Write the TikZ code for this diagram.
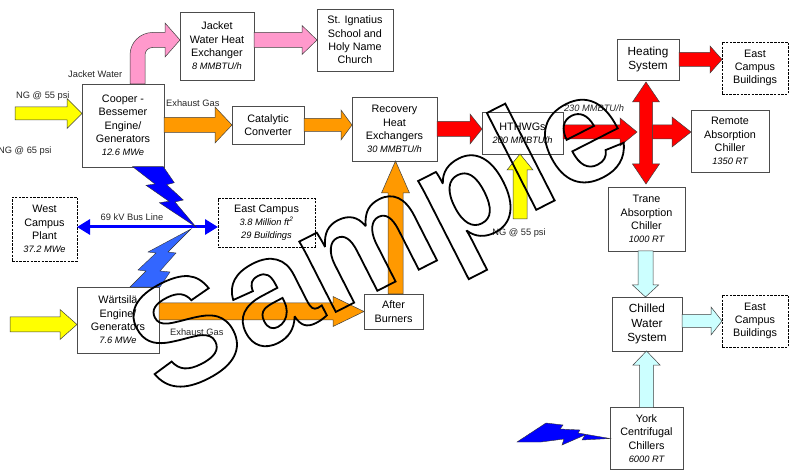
\documentclass[tikz,border=0pt]{standalone}
\usepackage{fontspec}
\setmainfont{Liberation Sans}
\usetikzlibrary{calc,arrows.meta}
\definecolor{pinkA}{HTML}{FF99CC}
\definecolor{orangeA}{HTML}{FF9900}
\definecolor{yellowA}{HTML}{FFFF00}
\definecolor{redA}{HTML}{FF0000}
\definecolor{cyanA}{HTML}{CCFFFF}
\definecolor{blueA}{HTML}{0000FF}
\definecolor{blueB}{HTML}{3366FF}
\newcommand\bxf{\fontsize{10.8}{13.3}\selectfont}
\newcommand\bxg{\fontsize{11.8}{14.6}\selectfont}
\newcommand\itf{\fontsize{9.3}{11}\selectfont\itshape}
\newcommand\lblf{\fontsize{9.3}{11}\selectfont}
\newcommand\wmf{\fontsize{150}{155}\selectfont\bfseries}
% block arrow: style, start, tip, shaft half width, head half width, head length
\newcommand\barrow[6]{%
  \coordinate (bah) at ($(#3)!#6!(#2)$);
  \draw[#1] ($(#2)!#4!90:(#3)$) -- ($(bah)!#4!-90:(#2)$) -- ($(bah)!#5!-90:(#2)$) -- (#3)
    -- ($(bah)!#5!90:(#2)$) -- ($(bah)!#4!90:(#2)$) -- ($(#2)!#4!-90:(#3)$) -- cycle;}
% double block arrow: style, tip1, tip2, shaft half, head half, head length
\newcommand\dbarrow[6]{%
  \coordinate (bah1) at ($(#2)!#6!(#3)$);
  \coordinate (bah2) at ($(#3)!#6!(#2)$);
  \draw[#1] (#2) -- ($(bah1)!#5!90:(#3)$) -- ($(bah1)!#4!90:(#3)$) -- ($(bah2)!#4!-90:(#2)$)
    -- ($(bah2)!#5!-90:(#2)$) -- (#3) -- ($(bah2)!#5!90:(#2)$) -- ($(bah2)!#4!90:(#2)$)
    -- ($(bah1)!#4!-90:(#3)$) -- ($(bah1)!#5!-90:(#3)$) -- cycle;}
\begin{document}
\begin{tikzpicture}[x=1pt,y=-1pt,
  box/.style={draw=black!70, line width=0.8pt, fill=white, align=center, font=\bxf,
    inner sep=1pt, outer sep=0pt, text=black},
  dbox/.style={box, draw=black, dash pattern=on 2.5pt off 1.2pt},
  lbl/.style={font=\lblf, inner sep=0pt, text=black!85},
  blk/.style={draw=black!75, line width=0.5pt, line join=miter},
  yel/.style={blk, fill=yellowA},
  pnk/.style={blk, fill=pinkA},
  org/.style={blk, fill=orangeA},
  red/.style={blk, fill=redA},
  cyn/.style={blk, fill=cyanA},
  bolt/.style={draw=black!80, line width=0.4pt, fill=blueA},
  boltb/.style={draw=black!80, line width=0.4pt, fill=blueB},
  busline/.style={draw=blueA, line width=3pt, {Triangle[length=13pt,width=15pt]}-{Triangle[length=13pt,width=15pt]}}
]
\useasboundingbox (0,0) rectangle (790,470);

% ---------- boxes ----------
\node[box, minimum width=74pt, minimum height=68pt] (jhx) at (217,46) {Jacket\\Water Heat\\Exchanger\\{\itf 8 MMBTU/h}};
\node[box, minimum width=76pt, minimum height=62pt] (stig) at (355,40) {St. Ignatius\\School and\\Holy Name\\Church};
\node[box, minimum width=82pt, minimum height=83pt] (cooper) at (123,125.5) {Cooper -\\Bessemer\\Engine/\\Generators\\{\itf 12.6 MWe}};
\node[box, minimum width=72pt, minimum height=38pt] (cat) at (268,125) {Catalytic\\Converter};
\node[box, minimum width=85pt, minimum height=64pt] (rhx) at (394.5,129) {Recovery\\Heat\\Exchangers\\{\itf 30 MMBTU/h}};
\node[box, minimum width=81pt, minimum height=42pt] (hthwg) at (522.5,133) {HTHWGs\\{\itf 200 MMBTU/h}};
\node[box, minimum width=62pt, minimum height=41pt, font=\bxg] (heat) at (648,59.5) {Heating\\System};
\node[dbox, minimum width=66pt, minimum height=52pt] (ecb1) at (755,68) {East\\Campus\\Buildings};
\node[box, minimum width=78pt, minimum height=62pt] (remote) at (730,141) {Remote\\Absorption\\Chiller\\{\itf 1350 RT}};
\node[box, minimum width=77pt, minimum height=64pt] (trane) at (646.5,219) {Trane\\Absorption\\Chiller\\{\itf 1000 RT}};
\node[box, minimum width=70pt, minimum height=54pt, font=\bxg] (chilled) at (647,324) {Chilled\\Water\\System};
\node[dbox, minimum width=66pt, minimum height=52pt] (ecb2) at (755,321) {East\\Campus\\Buildings};
\node[box, minimum width=73pt, minimum height=62pt] (york) at (646.5,438.5) {York\\Centrifugal\\Chillers\\{\itf 6000 RT}};
\node[dbox, minimum width=65pt, minimum height=64pt] (west) at (44.5,229) {West\\Campus\\Plant\\{\itf 37.2 MWe}};
\node[dbox, minimum width=97pt, minimum height=49pt] (east) at (266.5,222.5) {East Campus\\{\itf 3.8 Million ft\textsuperscript{2}}\\{\itf 29 Buildings}};
\node[box, minimum width=82pt, minimum height=66pt] (wart) at (118,320) {Wärtsilä\\Engine/\\Generators\\{\itf 7.6 MWe}};
\node[box, minimum width=59pt, minimum height=35pt] (ab) at (393.5,311.5) {After\\Burners};

% ---------- labels ----------
\node[lbl, anchor=west] (lbjw) at (68,74) {Jacket Water};
\node[lbl, anchor=west] (lbng1) at (16,96) {NG @ 55 psi};
\node[lbl, anchor=west] (lbng2) at (-2,151) {NG @ 65 psi};
\node[lbl, anchor=west] (lbex1) at (166,103) {Exhaust Gas};
\node[lbl, anchor=west] (lbex2) at (170,332) {Exhaust Gas};
\node[lbl] (lbbus) at (132,217) {69 kV Bus Line};
\node[lbl] (lbng3) at (519,233) {NG @ 55 psi};
\node[lbl, font=\itf] (lb230) at (594,108) {230 MMBTU/h};

% ---------- block arrows ----------
\coordinate (ng1s) at (15,113.5);
\coordinate (ng1t) at (cooper.west |- ng1s);
\barrow{yel}{ng1s}{ng1t}{6.5pt}{15pt}{15pt}

% pink bent arrow (jacket water)
\coordinate (jwt) at ($(jhx.west)+(0,-6)$);
\coordinate (jwb) at ($(cooper.north)+(14.5,0)$);
\draw[pnk] ($(jwb)+(-7.5,0)$) -- ++(0,-29) arc[start angle=180,end angle=90,radius=22.5pt]
  -- ($(jwt)+(-15,-7.5)$) -- ($(jwt)+(-15,-17)$) -- (jwt) -- ($(jwt)+(-15,17)$)
  -- ($(jwt)+(-15,7.5)$) -- ($(jwt)+(-27.5,7.5)$) arc[start angle=90,end angle=180,radius=7.5pt]
  -- ($(jwb)+(7.5,0)$) -- cycle;

\coordinate (p2s) at (jhx.east |- stig.west);
\barrow{pnk}{p2s}{stig.west}{7.5pt}{14.5pt}{15pt}

\coordinate (o1s) at (cooper.east |- cat.west);
\barrow{org}{o1s}{cat.west}{7.5pt}{18pt}{17pt}

\coordinate (o2t) at (rhx.west |- cat.east);
\barrow{org}{cat.east}{o2t}{6.5pt}{15pt}{11pt}

\coordinate (o3s) at ($(ab.north)+(2,0)$);
\coordinate (o3t) at (o3s |- rhx.south);
\barrow{org}{o3s}{o3t}{7.5pt}{14pt}{32pt}

\coordinate (o4s) at (wart.east |- ab.west);
\barrow{org}{o4s}{ab.west}{8.5pt}{15pt}{31pt}

\coordinate (ng2s) at (10,324.5);
\coordinate (ng2t) at (wart.west |- ng2s);
\barrow{yel}{ng2s}{ng2t}{7.5pt}{15pt}{17pt}

\coordinate (ng3s) at (520,219);
\coordinate (ng3t) at (ng3s |- hthwg.south);
\barrow{yel}{ng3s}{ng3t}{7pt}{13pt}{16pt}

\coordinate (r1t) at (hthwg.west |- rhx.east);
\barrow{red}{rhx.east}{r1t}{7.5pt}{15pt}{12pt}

\coordinate (jn) at (646,132);
\coordinate (r2s) at (hthwg.east |- jn);
\coordinate (r2t) at ($(jn)+(-9,0)$);
\barrow{red}{r2s}{r2t}{7pt}{14pt}{17pt}

\coordinate (vt) at ($(jn |- heat.south)+(0,2)$);
\coordinate (vb) at ($(jn |- trane.north)+(0,-3)$);
\dbarrow{red}{vt}{vb}{6.5pt}{13.5pt}{20pt}

\coordinate (r3s) at ($(jn)+(6.5,0)$);
\coordinate (r3t) at (remote.west |- jn);
\barrow{red}{r3s}{r3t}{7pt}{15pt}{19pt}

\coordinate (r4t) at (ecb1.west |- heat.east);
\barrow{red}{heat.east}{r4t}{7pt}{13.5pt}{12pt}

\coordinate (c1s) at ($(trane.south)+(-1,0)$);
\coordinate (c1t) at (c1s |- chilled.north);
\barrow{cyn}{c1s}{c1t}{7.5pt}{13pt}{12pt}

\coordinate (c2t) at (york.north |- chilled.south);
\barrow{cyn}{york.north}{c2t}{7pt}{13.5pt}{14pt}

\coordinate (c3s) at (chilled.east |- ecb2.west);
\barrow{cyn}{c3s}{ecb2.west}{6.5pt}{14pt}{11pt}

% ---------- electrical ----------
\coordinate (bus) at (196,227);
\coordinate (busL) at (west.east |- bus);
\coordinate (busR) at (east.west |- bus);
\draw[busline] (busL) -- (busR);

\draw[bolt] (132.7,166.7) -- (163.3,166.7) -- (174.3,182.7) -- (166.7,184.7) -- (183.3,200)
  -- (175,202) -- (bus) -- (159.3,202.7) -- (169,201.3) -- (146,185.3) -- (155,184) -- cycle;
\draw[boltb] (191,229) -- (168,252) -- (176,253) -- (160,271) -- (170,272) -- (160,287)
  -- (130,287) -- (146,271) -- (138,270) -- (156,253) -- (148,252) -- cycle;
\draw[bolt] (517,442) -- (546,423) -- (563,425) -- (560,429) -- (580,430) -- (578,433)
  -- (york.west) -- (582,440) -- (585,435) -- (562,445) -- (564,439) -- (541,442) -- cycle;

% ---------- watermark ----------
\node[rotate=27, anchor=base west, inner sep=0pt, outer sep=0pt, font=\wmf, text=black] (wm)
  at (163,400) {\special{pdf:code 1 Tr 1.8 w}Sample\special{pdf:code 0 Tr}};
\end{tikzpicture}
\end{document}
